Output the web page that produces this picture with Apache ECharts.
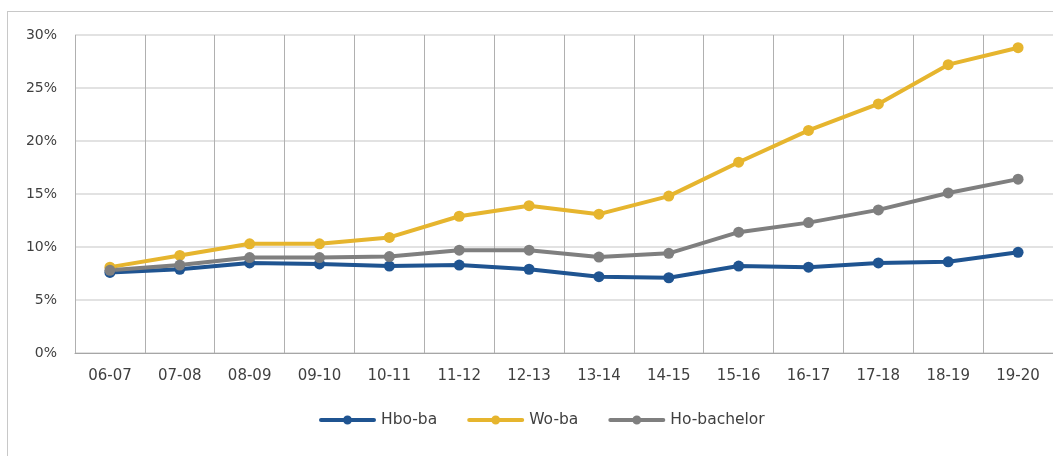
<!DOCTYPE html>
<html><head><meta charset="utf-8">
<script src="https://cdn.jsdelivr.net/npm/echarts@6/dist/echarts.min.js"></script>
<style>
html,body{margin:0;padding:0;background:#fff;overflow:hidden}
#frame{position:absolute;left:7px;top:11px;width:1100px;height:500px;border:1.5px solid #c8c8c8;box-sizing:border-box}
#c{position:absolute;left:0;top:0;width:1053px;height:456px}
</style></head>
<body>
<div id="frame"></div>
<div id="c"></div>
<script>
const categories = ['06-07','07-08','08-09','09-10','10-11','11-12','12-13','13-14','14-15','15-16','16-17','17-18','18-19','19-20'];
const hboBa = [7.6,7.9,8.5,8.4,8.2,8.3,7.9,7.2,7.1,8.2,8.1,8.5,8.6,9.5];
const woBa = [8.1,9.2,10.3,10.3,10.9,12.9,13.9,13.1,14.8,18.0,21.0,23.5,27.2,28.8];
const hoBachelor = [7.8,8.3,9.0,9.0,9.1,9.7,9.7,9.05,9.4,11.4,12.3,13.5,15.1,16.4];
const seriesNames = ['Hbo-ba','Wo-ba','Ho-bachelor'];
const colors = ['#1f5491','#e6b52e','#7f7f7f'];

const legendIcon = 'path://M2,4 L55,4 A2,2 0 0 1 55,8 L2,8 A2,2 0 0 1 2,4 Z M24,6 A4.5,4.5 0 1 1 33,6 A4.5,4.5 0 1 1 24,6 Z';

const chart = echarts.init(document.getElementById('c'));
const font = 'DejaVu Sans';
function mk(name, data, color){
  return {name, type:'line', data, symbol:'circle', symbolSize:11,
    lineStyle:{width:4,color,cap:'round'}, itemStyle:{color}, z: 3};
}
chart.setOption({
  animation:false,
  textStyle:{fontFamily:font},
  grid:{left:75, right:-2, top:35, bottom:103, containLabel:false},
  xAxis:{type:'category', data:categories, boundaryGap:true,
    axisLine:{lineStyle:{color:'#a6a6a6',width:1}},
    axisTick:{show:false},
    axisLabel:{color:'#404040', fontSize:15, margin:16, fontFamily:font},
    splitLine:{show:true, lineStyle:{color:'#b0b0b0',width:1}}},
  yAxis:{type:'value', min:0, max:30, interval:5,
    axisLine:{show:false}, axisTick:{show:false},
    axisLabel:{color:'#404040', fontSize:14, margin:18, fontFamily:font, formatter:'{value}%'},
    splitLine:{lineStyle:{color:'#d9d9d9',width:1.5}}},
  legend:{top:407, left:314, itemWidth:57, itemHeight:9, itemGap:30,
    icon: legendIcon,
    textStyle:{color:'#404040', fontSize:15.5, fontFamily:font},
    data:seriesNames},
  series:[mk(seriesNames[0],hboBa,colors[0]), mk(seriesNames[1],woBa,colors[1]), mk(seriesNames[2],hoBachelor,colors[2])]
});
</script>
</body></html>
